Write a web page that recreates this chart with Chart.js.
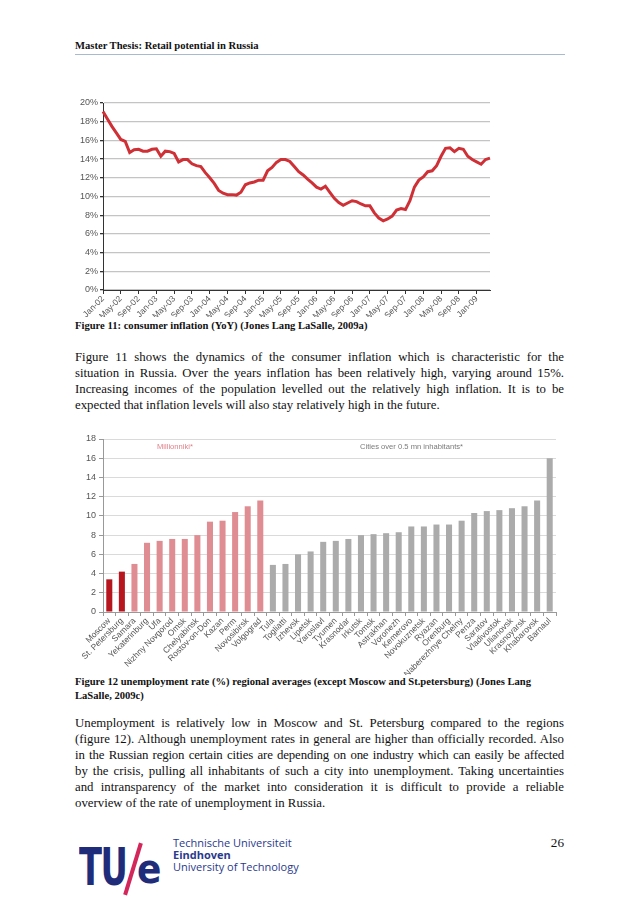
<!DOCTYPE html>
<html>
<head>
<meta charset="utf-8">
<script src="https://cdn.jsdelivr.net/npm/chart.js@4.4.1/dist/chart.umd.min.js"></script>
<style>
  body { margin: 0; background: #fff; }
  #page { position: relative; width: 638px; height: 903px; overflow: hidden; font-family: "Liberation Serif", "DejaVu Serif", serif; color: #111; }
  .abs { position: absolute; }
  .cap { font-weight: bold; font-size: 10.6px; line-height: 14px; }
  .para { left: 75px; width: 489px; font-size: 12.8px; line-height: 16px; }
  .para div { text-align: justify; text-align-last: justify; white-space: nowrap; }
  .para div.last { text-align-last: left; }
  .lab { font-family: "Liberation Sans", Arial, sans-serif; font-size: 7.6px; }
  .tue { font-family: "Open Sans", "DejaVu Sans", sans-serif; color: #2a3a8c; font-size: 11px; line-height: 12px; }
</style>
</head>
<body>
<div id="page">
  <div class="abs cap" style="left:75px; top:39px;">Master Thesis: Retail potential in Russia</div>
  <div class="abs" style="left:75px; top:54px; width:490px; height:1px; background:#a8bacb;"></div>

  <canvas id="inflation" class="abs" width="440" height="222" style="left:60px; top:95px;"></canvas>
  <div class="abs cap" style="left:75px; top:319px;">Figure 11: consumer inflation (YoY) (Jones Lang LaSalle, 2009a)</div>

  <div class="abs para" style="top:349px;">
    <div>Figure 11 shows the dynamics of the consumer inflation which is characteristic for the</div>
    <div>situation in Russia. Over the years inflation has been relatively high, varying around 15%.</div>
    <div>Increasing incomes of the population levelled out the relatively high inflation. It is to be</div>
    <div class="last">expected that inflation levels will also stay relatively high in the future.</div>
  </div>

  <canvas id="unemployment" class="abs" width="505" height="245" style="left:60px; top:430px;"></canvas>
  <div class="abs lab" style="left:157px; top:442px; color:#e07f88;">Millionniki*</div>
  <div class="abs lab" style="left:360px; top:442px; color:#7a7a7a;">Cities over 0.5 mn inhabitants*</div>

  <div class="abs cap" style="left:75px; top:675px;">Figure 12 unemployment rate (%) regional averages (except Moscow and St.petersburg) (Jones Lang<br>LaSalle, 2009c)</div>

  <div class="abs para" style="top:715px;">
    <div>Unemployment is relatively low in Moscow and St. Petersburg compared to the regions</div>
    <div>(figure 12). Although unemployment rates in general are higher than officially recorded. Also</div>
    <div style="letter-spacing:-0.15px;">in the Russian region certain cities are depending on one industry which can easily be affected</div>
    <div>by the crisis, pulling all inhabitants of such a city into unemployment. Taking uncertainties</div>
    <div>and intransparency of the market into consideration it is difficult to provide a reliable</div>
    <div class="last">overview of the rate of unemployment in Russia.</div>
  </div>

  <div class="abs" style="left:79px; top:837px; font-family:'DejaVu Sans Condensed','DejaVu Sans',sans-serif; font-weight:bold; font-size:52px; line-height:60px; color:#1f2c7a; transform:scaleX(0.72); transform-origin:left top; letter-spacing:-2px;">TU</div>
  <div class="abs" style="left:131px; top:842px; width:4px; height:54px; background:#d3275c; transform:rotate(17deg);"></div>
  <div class="abs" style="left:137px; top:842px; font-family:'DejaVu Sans Condensed','DejaVu Sans',sans-serif; font-weight:bold; font-size:40px; line-height:54px; color:#1f2c7a;">e</div>
  <div class="abs tue" style="left:173px; top:837px;">Technische Universiteit<br><b>Eindhoven</b><br>University of Technology</div>
  <div class="abs" style="left:540px; top:835px; width:24px; text-align:right; font-size:13.2px;">26</div>
</div>

<script>
// Figure 11 - consumer inflation, monthly, Jan-02 .. Apr-09 (%)
var months = [
  'Jan-02','Feb-02','Mar-02','Apr-02','May-02','Jun-02','Jul-02','Aug-02','Sep-02','Oct-02','Nov-02','Dec-02',
  'Jan-03','Feb-03','Mar-03','Apr-03','May-03','Jun-03','Jul-03','Aug-03','Sep-03','Oct-03','Nov-03','Dec-03',
  'Jan-04','Feb-04','Mar-04','Apr-04','May-04','Jun-04','Jul-04','Aug-04','Sep-04','Oct-04','Nov-04','Dec-04',
  'Jan-05','Feb-05','Mar-05','Apr-05','May-05','Jun-05','Jul-05','Aug-05','Sep-05','Oct-05','Nov-05','Dec-05',
  'Jan-06','Feb-06','Mar-06','Apr-06','May-06','Jun-06','Jul-06','Aug-06','Sep-06','Oct-06','Nov-06','Dec-06',
  'Jan-07','Feb-07','Mar-07','Apr-07','May-07','Jun-07','Jul-07','Aug-07','Sep-07','Oct-07','Nov-07','Dec-07',
  'Jan-08','Feb-08','Mar-08','Apr-08','May-08','Jun-08','Jul-08','Aug-08','Sep-08','Oct-08','Nov-08','Dec-08',
  'Jan-09','Feb-09','Mar-09','Apr-09'
];
var inflation = [
  19.1, 18.3, 17.5, 16.8, 16.1, 15.9, 14.7, 15.0, 15.05, 14.85, 14.85, 15.05,
  15.1, 14.3, 14.85, 14.8, 14.6, 13.7, 13.95, 13.95, 13.5, 13.3, 13.2, 12.55,
  12.0, 11.4, 10.65, 10.35, 10.2, 10.2, 10.15, 10.45, 11.25, 11.45, 11.55, 11.75,
  11.75, 12.75, 13.1, 13.65, 13.95, 13.95, 13.75, 13.2, 12.65, 12.3, 11.85, 11.45,
  11.0, 10.8, 11.1, 10.45, 9.8, 9.35, 9.05, 9.3, 9.55, 9.45, 9.2, 9.0,
  9.0, 8.25, 7.7, 7.4, 7.6, 7.9, 8.55, 8.7, 8.6, 9.55, 11.0, 11.75,
  12.1, 12.65, 12.75, 13.3, 14.3, 15.15, 15.2, 14.8, 15.15, 15.05, 14.3, 13.95,
  13.7, 13.45, 13.95, 14.1
];

// Figure 12 - unemployment rate (%) by city
var cities = ['Moscow','St. Petersburg','Samara','Yekaterinburg','Ufa','Nizhny Novgorod','Omsk','Chelyabinsk',
  'Rostov-on-Don','Kazan','Perm','Novosibirsk','Volgograd','Tula','Togliatti','Izhevsk','Lipetsk','Yaroslavl',
  'Tyumen','Krasnodar','Irkutsk','Tomsk','Astrakhan','Voronezh','Kemerovo','Novokuznetsk','Ryazan','Orenburg',
  'Naberezhnye Chelny','Penza','Saratov','Vladivostok','Ulianovsk','Krasnoyarsk','Khabarovsk','Barnaul'];
var unemployment = [3.4, 4.2, 5.0, 7.2, 7.4, 7.6, 7.6, 8.0, 9.4, 9.5, 10.4, 11.0, 11.6,
  4.9, 5.0, 6.0, 6.3, 7.3, 7.4, 7.6, 8.0, 8.1, 8.2, 8.3, 8.9, 8.9, 9.1, 9.1, 9.5,
  10.3, 10.5, 10.6, 10.8, 11.0, 11.6, 16.0];
var capitals = 2, millionniki = 13;

var yFont = { family: 'Liberation Sans', size: 9 };
var xFont = { family: 'Liberation Sans', size: 8.5 };

new Chart(document.getElementById('inflation').getContext('2d'), {
  type: 'line',
  data: {
    labels: months,
    datasets: [{
      data: inflation,
      borderColor: '#cf3036',
      borderWidth: 3,
      pointRadius: 0,
      tension: 0
    }]
  },
  options: {
    responsive: false,
    animation: false,
    layout: { padding: { top: 8, right: 10, left: 0, bottom: 0 } },
    plugins: { legend: { display: false }, tooltip: { enabled: false } },
    scales: {
      x: {
        offset: false,
        grid: {
          drawOnChartArea: false,
          tickLength: 4,
          tickColor: function (c) { return c.index % 4 === 0 ? '#333' : 'rgba(0,0,0,0)'; }
        },
        border: { color: '#333' },
        ticks: {
          autoSkip: false, maxRotation: 45, minRotation: 45, padding: 0,
          font: xFont, color: '#555',
          callback: function (v, i) { return i % 4 === 0 ? months[i] : ''; }
        },
        afterFit: function (s) { s.height = 27; }
      },
      y: {
        min: 0, max: 20,
        ticks: { stepSize: 2, font: yFont, color: '#555', padding: 2,
          callback: function (v) { return v + '%'; } },
        grid: { color: '#c4c4c4', lineWidth: 1.3, tickLength: 3, tickColor: '#333' },
        border: { color: '#333' },
        afterFit: function (s) { s.width = 43; }
      }
    }
  }
});

new Chart(document.getElementById('unemployment').getContext('2d'), {
  type: 'bar',
  data: {
    labels: cities,
    datasets: [{
      data: unemployment,
      backgroundColor: cities.map(function (c, i) {
        return i < capitals ? '#b8161f' : (i < millionniki ? '#df8d93' : '#ababab');
      }),
      barPercentage: 0.48,
      categoryPercentage: 1
    }]
  },
  options: {
    responsive: false,
    animation: false,
    layout: { padding: { top: 9, right: 9, left: 0, bottom: 0 } },
    plugins: { legend: { display: false }, tooltip: { enabled: false } },
    scales: {
      x: {
        grid: { drawOnChartArea: false, tickLength: 4, tickColor: '#999' },
        border: { color: '#999' },
        ticks: { autoSkip: false, maxRotation: 45, minRotation: 45, padding: 0, font: xFont, color: '#555' },
        afterFit: function (s) { s.height = 63; }
      },
      y: {
        min: 0, max: 18,
        ticks: { stepSize: 2, font: yFont, color: '#555', padding: 3 },
        grid: { color: '#dadada', lineWidth: 1, tickLength: 4, tickColor: '#999' },
        border: { color: '#999' },
        afterFit: function (s) { s.width = 43; }
      }
    }
  }
});
</script>
</body>
</html>
